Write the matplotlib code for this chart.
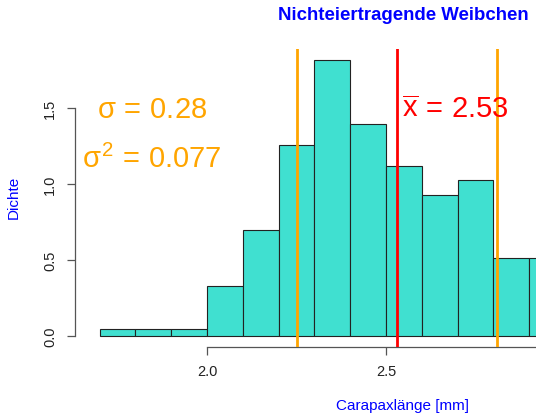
import numpy as np
import matplotlib
matplotlib.use("Agg")
import matplotlib.pyplot as plt

plt.rcParams['font.family'] = ['Liberation Sans', 'DejaVu Sans']
plt.rcParams['mathtext.fontset'] = 'custom'
plt.rcParams['mathtext.rm'] = 'Liberation Sans'
plt.rcParams['mathtext.it'] = 'Liberation Sans'
plt.rcParams['mathtext.sf'] = 'Liberation Sans'

# histogram (density) of carapace length, bin width 0.1
bin_left = [1.7, 1.8, 1.9, 2.0, 2.1, 2.2, 2.3, 2.4, 2.5, 2.6, 2.7, 2.8, 2.9]
density = [0.047, 0.047, 0.047, 0.326, 0.698, 1.256, 1.814, 1.395, 1.116, 0.930, 1.023, 0.512, 0.512]
bin_width = 0.1

mean = 2.53
sd = 0.28
var = 0.077

title = "Nichteiertragende Weibchen"
xlab = "Carapaxlänge [mm]"
ylab = "Dichte"

W, H = 536, 414
fig = plt.figure(figsize=(W / 100, H / 100), dpi=100)
ax = fig.add_axes([75 / W, 66 / H, (W - 75) / W, 298 / H])

ax.bar(bin_left, density, width=bin_width, align='edge',
       color='#40E0D0', edgecolor='#222222', linewidth=0.8, zorder=2)

ax.axvline(mean, color='red', lw=2, zorder=3)
ax.axvline(mean - sd, color='orange', lw=2, zorder=3)
ax.axvline(mean + sd, color='orange', lw=2, zorder=3)

ax.text(1.846, 1.49, r'$\sigma\,=\,0.28$', color='orange', fontsize=21,
        ha='center', va='center')
ax.text(1.846, 1.17, r'$\sigma^2\,=\,0.077$', color='orange', fontsize=21,
        ha='center', va='center')
ax.text(2.693, 1.49, r'$\overline{\mathrm{x}}\,=\,2.53$', color='red', fontsize=21,
        ha='center', va='center')

ax.set_xticks([2.0, 2.5])
ax.set_yticks([0.0, 0.5, 1.0, 1.5])
ax.set_xticklabels(['2.0', '2.5'])
ax.set_yticklabels(['0.0', '0.5', '1.0', '1.5'], rotation=90, va='center')
ax.set_xlim(1.631, 2.919)
ax.set_ylim(-0.0726, 1.887)

for s in ['top', 'right']:
    ax.spines[s].set_visible(False)
ax.spines['left'].set_bounds(0.0, 1.5)
ax.spines['bottom'].set_bounds(2.0, 3.0)
for s in ['left', 'bottom']:
    ax.spines[s].set_color('#555555')
    ax.spines[s].set_linewidth(0.9)
ax.tick_params(length=6, width=0.9, color='#555555', labelsize=10.5,
               labelcolor='#222222')
ax.tick_params(axis='x', pad=6)
ax.tick_params(axis='y', pad=7)

fig.text(403 / W, 1 - 15 / H, title, color='blue', fontsize=13.4,
         fontweight='bold', ha='center', va='center')
fig.text(403 / W, 1 - 406 / H, xlab, color='blue', fontsize=11,
         ha='center', va='center')
fig.text(14 / W, 1 - 197 / H, ylab, color='blue', fontsize=11,
         ha='center', va='center', rotation=90)

fig.savefig('out.png', dpi=100)
